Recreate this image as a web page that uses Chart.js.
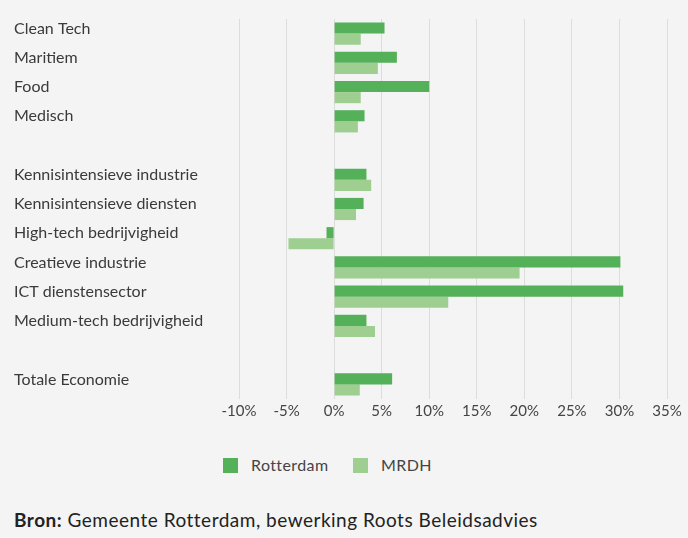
<!DOCTYPE html>
<html>
<head>
<meta charset="utf-8">
<script src="https://cdn.jsdelivr.net/npm/chart.js@4"></script>
<style>
  html, body { margin: 0; padding: 0; background: #f4f4f4; }
  body { width: 688px; height: 538px; position: relative; overflow: hidden; font-family: Lato, "Open Sans", sans-serif; color: #3a3a3a; }
  #wrap { position: absolute; left: 0; top: 0; width: 688px; height: 431px; }
  .legend { position: absolute; top: 455px; font-size: 16px; letter-spacing: 0.4px; color: #444; }
  .legend span.box { position: absolute; width: 15px; height: 15px; top: 3px; }
  .source { position: absolute; left: 14px; top: 508px; font-size: 19px; letter-spacing: 0.5px; color: #222; }
</style>
</head>
<body>
<div id="wrap"><canvas id="chart"></canvas></div>
<div class="legend" style="left:223px"><span class="box" style="left:0;background:#55b05a"></span><span style="margin-left:28px">Rotterdam</span></div>
<div class="legend" style="left:353px"><span class="box" style="left:0;background:#9ecf91"></span><span style="margin-left:28px">MRDH</span></div>
<div class="source"><b>Bron:</b> Gemeente Rotterdam, bewerking Roots Beleidsadvies</div>
<script>
// ==================== DATA ====================
const categories = [
    'Clean Tech', 'Maritiem', 'Food', 'Medisch', '',
    'Kennisintensieve industrie', 'Kennisintensieve diensten', 'High-tech bedrijvigheid',
    'Creatieve industrie', 'ICT dienstensector', 'Medium-tech bedrijvigheid', '',
    'Totale Economie'
];
const rotterdam = [5.3, 6.6, 10.0, 3.2, null, 3.4, 3.1, -0.8, 30.1, 30.4, 3.4, null, 6.1];
const mrdh      = [2.8, 4.6, 2.8, 2.5, null, 3.9, 2.3, -4.8, 19.5, 12.0, 4.3, null, 2.7];
const xTicks = [-10, -5, 0, 5, 10, 15, 20, 25, 30, 35];

// ==================== CHART ====================
const tickFont = { family: 'Lato, "Open Sans", sans-serif', size: 15 };
const labelFont = { family: 'Lato, "Open Sans", sans-serif', size: 16 };

new Chart(document.getElementById('chart'), {
    type: 'bar',
    data: {
        labels: categories,
        datasets: [
            { label: 'Rotterdam', data: rotterdam, backgroundColor: '#55b05a' },
            { label: 'MRDH', data: mrdh, backgroundColor: '#9ecf91' }
        ]
    },
    options: {
        indexAxis: 'y',
        responsive: true,
        maintainAspectRatio: false,
        animation: false,
        layout: { padding: { left: 14, right: 21, top: 19, bottom: 8 } },
        datasets: { bar: { categoryPercentage: 0.76, barPercentage: 1 } },
        plugins: { legend: { display: false }, tooltip: { enabled: false } },
        scales: {
            x: {
                min: xTicks[0],
                max: xTicks[xTicks.length - 1],
                afterBuildTicks: scale => { scale.ticks = xTicks.map(v => ({ value: v })); },
                grid: { color: '#dcdcdc', drawTicks: false },
                border: { display: false },
                ticks: { font: tickFont, color: '#444', padding: 3, callback: v => v + '%' }
            },
            y: {
                grid: { display: false },
                border: { display: false },
                afterFit: scale => { scale.width = 225; },
                ticks: { font: labelFont, color: '#3a3a3a', crossAlign: 'far', labelOffset: -5, autoSkip: false, padding: 0 }
            }
        }
    }
});
</script>
</body>
</html>
